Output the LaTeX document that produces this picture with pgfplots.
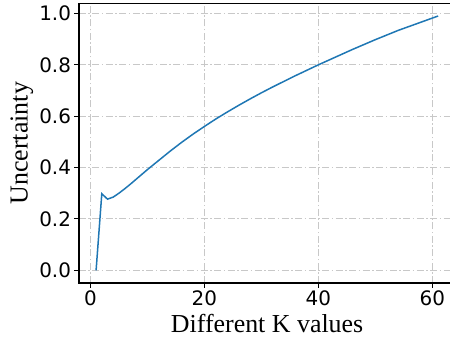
\documentclass[border=0pt]{standalone}
\usepackage{pgfplots}
\pgfplotsset{compat=1.18}
\usepackage{fontspec}
\setmainfont{Liberation Serif}
\newfontfamily\djv{DejaVu Sans}
\definecolor{mplblue}{HTML}{1F77B4}
\definecolor{gridgray}{HTML}{C8C8C8}
\begin{document}
\begin{tikzpicture}
\begin{axis}[
  at={(0,0)}, anchor=south west,
  scale only axis,
  width=376.2bp, height=279.7bp,
  xmin=-2, xmax=64,
  ymin=-0.0495, ymax=1.0395,
  xtick={0,20,40,60},
  ytick={0,0.2,0.4,0.6,0.8,1.0},
  yticklabel style={/pgf/number format/.cd, fixed, fixed zerofill, precision=1},
  /pgf/number format/assume math mode=true,
  ticklabel style={font=\djv\fontsize{20}{24}\selectfont},
  tick align=outside,
  major tick length=4.5bp,
  tick style={black, line width=0.9bp},
  xtick pos=bottom, ytick pos=left,
  axis line style={black, line width=1.1bp},
  grid=major,
  major grid style={gridgray, line width=0.9bp, dash pattern=on 7bp off 2.5bp on 1.5bp off 2.5bp},
  xlabel={Different K values},
  ylabel={Uncertainty},
  label style={font=\fontsize{26}{30}\selectfont},
  xlabel style={at={(axis description cs:0.5,-0.1777)}, anchor=base},
  ylabel style={at={(axis description cs:-0.1364,0.5)}, anchor=base, rotate=0},
]
\addplot[mplblue, line width=1.5bp] coordinates {
(1,0.000) (2,0.298) (3,0.277) (4,0.285) (5,0.300) (6,0.317) (7,0.335)
(8,0.354) (9,0.373) (10,0.392) (12,0.428) (14,0.464) (16,0.498)
(18,0.530) (20,0.560) (22,0.589) (24,0.616) (26,0.642) (28,0.667)
(30,0.691) (32,0.714) (34,0.736) (36,0.758) (38,0.779) (40,0.800)
(42,0.820) (44,0.840) (46,0.860) (48,0.879) (50,0.898) (52,0.916)
(54,0.934) (56,0.950) (58,0.966) (60,0.982) (61,0.990)
};
\end{axis}
\pgfresetboundingbox
\useasboundingbox (-79bp,-57bp) rectangle (371bp,283bp);
\end{tikzpicture}
\end{document}
